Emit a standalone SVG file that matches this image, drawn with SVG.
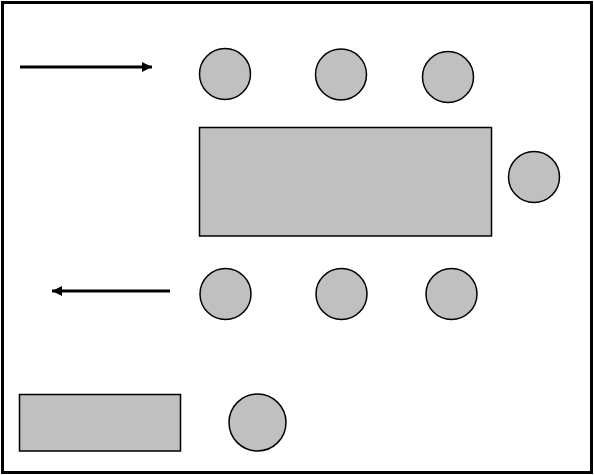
<svg xmlns="http://www.w3.org/2000/svg" width="594" height="475" viewBox="0 0 594 475">
<style>
.n{fill:#c0c0c0;stroke:#000;stroke-width:1.5}
.c{stroke:#000;stroke-width:3;fill:none}
</style>
<defs>
<marker id="ah" markerWidth="10" markerHeight="10" refX="10" refY="5" orient="auto" markerUnits="userSpaceOnUse">
<path d="M0,0 L10,5 L0,10 Z" fill="#000"/>
</marker>
</defs>
<rect x="2.5" y="2.5" width="589" height="470" fill="#fff" stroke="#000" stroke-width="3"/>
<g id="connectors">
<line class="c" x1="20" y1="67" x2="152" y2="67" marker-end="url(#ah)"/>
<line class="c" x1="170" y1="291" x2="52" y2="291" marker-end="url(#ah)"/>
</g>
<g id="c1"><circle class="n" cx="225" cy="74" r="25.5"/></g>
<g id="c2"><circle class="n" cx="341" cy="74.5" r="25.5"/></g>
<g id="c3"><circle class="n" cx="448" cy="77" r="25.5"/></g>
<g id="table"><rect class="n" x="199.5" y="127.5" width="292" height="108.5"/></g>
<g id="c4"><circle class="n" cx="534" cy="177" r="25.5"/></g>
<g id="c5"><circle class="n" cx="225.5" cy="294" r="25.5"/></g>
<g id="c6"><circle class="n" cx="341.5" cy="294" r="25.5"/></g>
<g id="c7"><circle class="n" cx="451.5" cy="294" r="25.5"/></g>
<g id="box"><rect class="n" x="19.5" y="394.5" width="161" height="56.5"/></g>
<g id="c8"><circle class="n" cx="257.5" cy="422.5" r="28.5"/></g>
</svg>
